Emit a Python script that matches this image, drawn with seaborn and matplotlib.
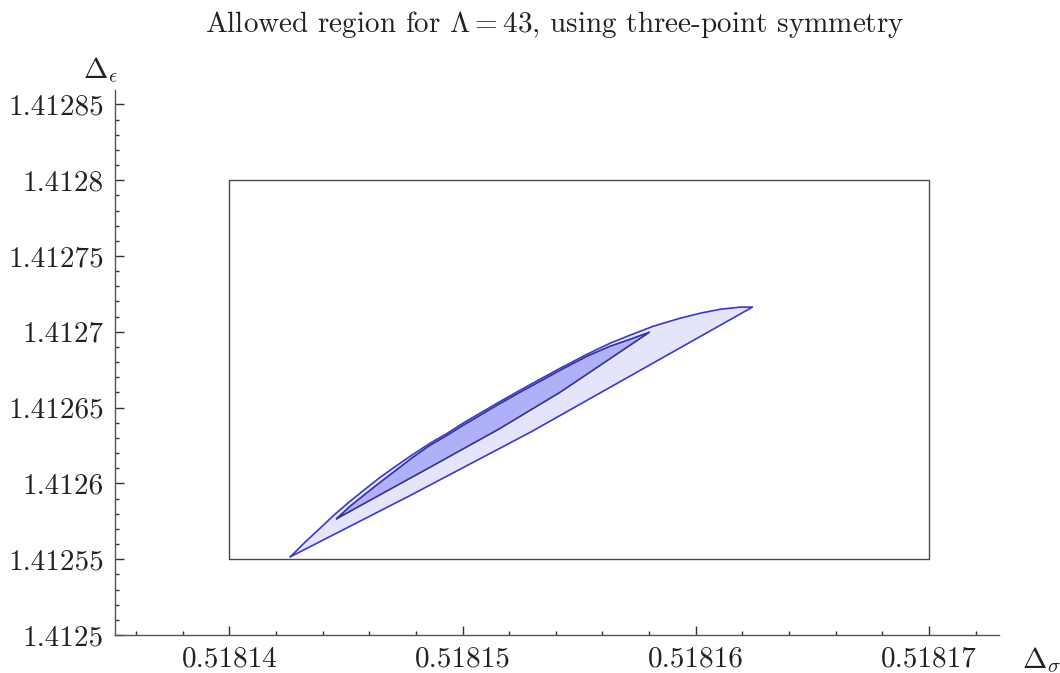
import numpy as np
import pandas as pd
import seaborn as sns
import matplotlib.pyplot as plt
from matplotlib.ticker import FixedLocator, AutoMinorLocator, FuncFormatter

# === data ===
# outer (light) allowed region: upper edge left->right, then lower edge right->left
outer_x = [0.51814262, 0.51814322, 0.51814387, 0.51814451, 0.51814516, 0.51814580,
           0.51814645, 0.51814718, 0.51814786, 0.51814859, 0.51814933, 0.51815001,
           0.51815074, 0.51815147, 0.51815246, 0.51815332, 0.51815418, 0.51815534,
           0.51815633, 0.51815719, 0.51815818, 0.51815934, 0.51816020, 0.51816106,
           0.51816192, 0.51816243,
           0.51815762, 0.51815289, 0.51814774, 0.51814262]
outer_y = [1.4125516, 1.4125608, 1.4125701, 1.4125794, 1.4125880, 1.4125959,
           1.4126038, 1.4126118, 1.4126190, 1.4126263, 1.4126329, 1.4126396,
           1.4126462, 1.4126528, 1.4126614, 1.4126687, 1.4126759, 1.4126852,
           1.4126925, 1.4126978, 1.4127037, 1.4127090, 1.4127123, 1.4127149,
           1.4127163, 1.4127163,
           1.4126746, 1.4126336, 1.4125919, 1.4125516]

# inner (dark) allowed region
inner_x = [0.51814460, 0.51814516, 0.51814580, 0.51814645, 0.51814718, 0.51814786,
           0.51814859, 0.51814933, 0.51815001, 0.51815074, 0.51815147, 0.51815246,
           0.51815332, 0.51815418, 0.51815534, 0.51815633, 0.51815719, 0.51815801,
           0.51815418, 0.51815160, 0.51814859, 0.51814460]
inner_y = [1.4125767, 1.4125847, 1.4125926, 1.4126005, 1.4126091, 1.4126171,
           1.4126250, 1.4126316, 1.4126382, 1.4126448, 1.4126515, 1.4126601,
           1.4126673, 1.4126746, 1.4126839, 1.4126905, 1.4126951, 1.4126997,
           1.4126601, 1.4126362, 1.4126105, 1.4125767]

# search box
box_x = [0.51814, 0.51817, 0.51817, 0.51814, 0.51814]
box_y = [1.41255, 1.41255, 1.4128, 1.4128, 1.41255]

x_ticks = [0.51814, 0.51815, 0.51816, 0.51817]
y_ticks = [1.4125, 1.41255, 1.4126, 1.41265, 1.4127, 1.41275, 1.4128, 1.41285]

# === style ===
sns.set_style("white")
plt.rcParams["font.family"] = "serif"
plt.rcParams["font.serif"] = ["cmr10", "DejaVu Serif"]
plt.rcParams["mathtext.fontset"] = "cm"
plt.rcParams["axes.unicode_minus"] = False

fig = plt.figure(figsize=(10.6, 6.73), dpi=100)
ax = fig.add_axes([115 / 1060, 38 / 673, 884 / 1060, 545 / 673])

# fills
ax.fill(outer_x, outer_y, color="#e4e4fb", zorder=1)
ax.fill(inner_x, inner_y, color="#b0b0f8", zorder=2)

# outlines
sns.lineplot(x=box_x, y=box_y, sort=False, estimator=None, color="#4a4a4a",
             linewidth=1.0, ax=ax, zorder=0)
sns.lineplot(x=outer_x, y=outer_y, sort=False, estimator=None, color="#3a3ad0",
             linewidth=1.2, ax=ax, zorder=3)
sns.lineplot(x=inner_x, y=inner_y, sort=False, estimator=None, color="#34348f",
             linewidth=1.2, ax=ax, zorder=4)

ax.set_xlim(0.5181351, 0.518173)
ax.set_ylim(1.4125, 1.4128595)

# axes look (Mathematica-ish)
for s in ["top", "right"]:
    ax.spines[s].set_visible(False)
for s in ["left", "bottom"]:
    ax.spines[s].set_color("#555555")
    ax.spines[s].set_linewidth(1.0)

fmt = FuncFormatter(lambda v, p: f"{v:.5f}".rstrip("0"))
ax.xaxis.set_major_locator(FixedLocator(x_ticks))
ax.yaxis.set_major_locator(FixedLocator(y_ticks))
ax.xaxis.set_major_formatter(fmt)
ax.yaxis.set_major_formatter(fmt)
ax.xaxis.set_minor_locator(AutoMinorLocator(5))
ax.yaxis.set_minor_locator(AutoMinorLocator(5))
ax.tick_params(which="both", direction="in", color="#333333", width=1.0,
               labelsize=21, labelcolor="#222222")
ax.tick_params(which="major", length=6.5, pad=8)
ax.tick_params(which="minor", length=3.2)
ax.tick_params(axis="x", which="both", bottom=True)
ax.tick_params(axis="y", which="both", left=True)

ax.set_xlabel("")
ax.set_ylabel("")
fig.text(1022 / 1060, 1 - 660 / 673, r"$\Delta_\sigma$", fontsize=21,
         ha="left", va="center", color="#222222")
fig.text(101 / 1060, 1 - 70 / 673, r"$\Delta_\epsilon$", fontsize=21,
         ha="center", va="center", color="#222222")
fig.text(555 / 1060, 1 - 25 / 673,
         r"Allowed region for $\Lambda = 43$, using three-point symmetry",
         fontsize=21, ha="center", va="center", color="#222222")

plt.savefig("out.png", dpi=100)
